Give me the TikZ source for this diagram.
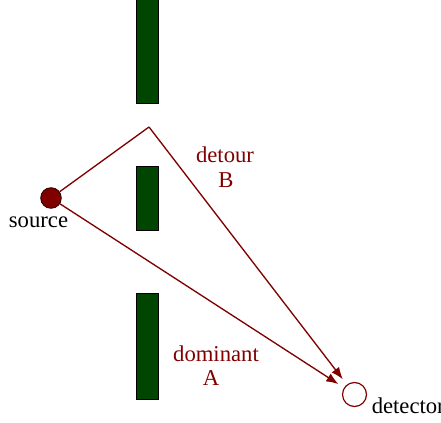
\documentclass[tikz,border=0pt]{standalone}
\usepackage{fontspec}
\setmainfont{Liberation Serif}
\usetikzlibrary{arrows.meta}
\definecolor{barcol}{RGB}{0,70,0}
\definecolor{raycol}{RGB}{128,0,0}
\tikzset{
  wall/.style={rectangle, draw=black, fill=barcol, inner sep=0pt, minimum width=16.5pt, line width=0.6pt},
  ray/.style={draw=raycol, line width=1pt},
  lbl/.style={anchor=base, inner sep=0pt, font=\fontsize{17}{20}\selectfont},
}
\begin{document}
\begin{tikzpicture}[x=0.75pt, y=-0.75pt]
\useasboundingbox (0,0) rectangle (441,423);
\node[wall, minimum height=81pt] (wtop) at (147,49.5){};
\node[wall, minimum height=48pt] (wmid) at (147,198){};
\node[wall, minimum height=79.5pt] (wbot) at (147,346.5){};
\node[circle, minimum size=15.5pt, inner sep=0pt, fill=raycol, draw=black!70!raycol, line width=0.6pt] (src) at (51,198){};
\node[circle, minimum size=18pt, inner sep=0pt, draw=raycol, fill=white, line width=0.9pt] (det) at (354.5,394.5){};
\coordinate (apex) at (149,127);
\draw[ray] (src) -- (apex);
\draw[ray, -{Latex[length=9pt, width=7pt]}, shorten >=5pt] (apex) -- (det);
\draw[ray, -{Latex[length=9pt, width=7pt]}, shorten >=5pt] (src) -- (det);
\node[lbl] (lsrc) at (38.5,228){source};
\node[lbl, anchor=base west] (ldet) at (371.5,413){detector};
\node[lbl, text=raycol] (ldetour) at (225,162.7){detour};
\node[lbl, text=raycol] (lB) at (226,188){B};
\node[lbl, text=raycol] (ldom) at (216,361.7){dominant};
\node[lbl, text=raycol] (lA) at (211,385){A};

\end{tikzpicture}
\end{document}
